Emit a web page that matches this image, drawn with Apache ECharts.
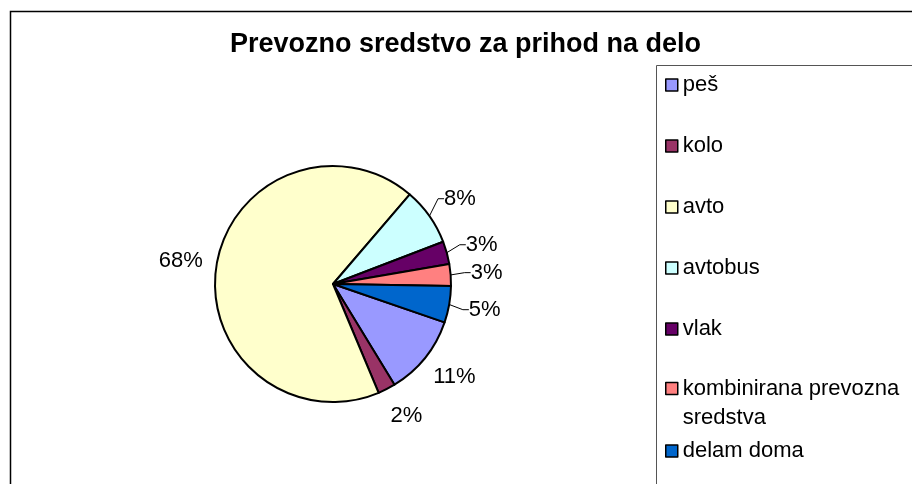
<!DOCTYPE html>
<html>
<head>
<meta charset="utf-8">
<script src="https://cdn.jsdelivr.net/npm/echarts@6/dist/echarts.min.js"></script>
<style>
  html, body { margin: 0; padding: 0; background: #fff; }
  #chart { width: 912px; height: 484px; }
</style>
</head>
<body>
<div id="chart"></div>
<script>
// podatki
var categories = ['peš', 'kolo', 'avto', 'avtobus', 'vlak', 'kombinirana prevozna sredstva', 'delam doma'];
var shares = [11.0, 2.4, 67.6, 7.9, 3.1, 3.0, 5.0];
var colors = ['#9999FF', '#993366', '#FFFFCC', '#CCFFFF', '#660066', '#FF8080', '#0066CC'];
var noLeader = ['peš', 'kolo', 'avto'];   // Excel ne riše črte pri teh oznakah

var FONT = 'Liberation Sans, Arial, sans-serif';
var myChart = echarts.init(document.getElementById('chart'));

var pieData = categories.map(function (name, i) {
    var item = { name: name, value: shares[i] };
    if (noLeader.indexOf(name) >= 0) {
        item.labelLine = { show: false };
    }
    return item;
});

var legendText = { fontFamily: FONT, fontSize: 22, color: '#000', lineHeight: 24 };

var option = {
    animation: false,
    color: colors,
    title: {
        text: 'Prevozno sredstvo za prihod na delo',
        left: 230,
        top: 31,
        padding: 0,
        textStyle: { fontFamily: FONT, fontSize: 27, fontWeight: 'bold', color: '#000' }
    },
    legend: [{
        // prvih pet
        data: categories.slice(0, 5),
        orient: 'vertical',
        left: 665,
        top: 73,
        padding: 0,
        itemGap: 37,
        itemWidth: 12,
        itemHeight: 12,
        icon: 'rect',
        selectedMode: false,
        itemStyle: { borderColor: '#000', borderWidth: 1.5 },
        textStyle: legendText
    }, {
        // dvovrstična oznaka (prazna prva vrstica, da je oznaka ob prvi vrstici) + zadnja
        data: [
            { name: categories[5], textStyle: { lineHeight: 29 } },
            categories[6]
        ],
        formatter: function (name) {
            return name === categories[5] ? '\nkombinirana prevozna\nsredstva' : name;
        },
        orient: 'vertical',
        left: 665,
        top: 345,
        padding: 0,
        itemGap: 7,
        itemWidth: 12,
        itemHeight: 12,
        icon: 'rect',
        selectedMode: false,
        itemStyle: { borderColor: '#000', borderWidth: 1.5 },
        textStyle: legendText
    }],
    graphic: [{
        type: 'rect',
        shape: { x: 10.5, y: 11.5, width: 1000, height: 1000 },
        style: { fill: 'none', stroke: '#000', lineWidth: 1.5 },
        silent: true
    }, {
        type: 'rect',
        shape: { x: 656.5, y: 65.5, width: 400, height: 500 },
        style: { fill: 'none', stroke: '#555', lineWidth: 1 },
        silent: true
    }],
    series: [{
        type: 'pie',
        center: [333, 284],
        radius: 118,
        startAngle: -19,
        clockwise: true,
        avoidLabelOverlap: false,
        itemStyle: { borderColor: '#000', borderWidth: 2 },
        emphasis: { disabled: true },
        label: {
            show: true,
            position: 'outside',
            distanceToLabelLine: 0,
            fontFamily: FONT,
            fontSize: 22,
            color: '#000',
            formatter: function (p) { return Math.round(p.percent) + '%'; }
        },
        labelLine: {
            show: true,
            length: 30,
            length2: 6,
            lineStyle: { color: '#000', width: 1 }
        },
        // oznako centriramo na sidrno točko, kot v Excelu
        labelLayout: function (p) {
            var r = p.labelRect;
            var ax = p.align === 'left' ? r.x : r.x + r.width;
            return { x: ax, y: r.y + r.height / 2, align: 'center', verticalAlign: 'middle' };
        },
        data: pieData
    }]
};

myChart.setOption(option);
</script>
</body>
</html>
